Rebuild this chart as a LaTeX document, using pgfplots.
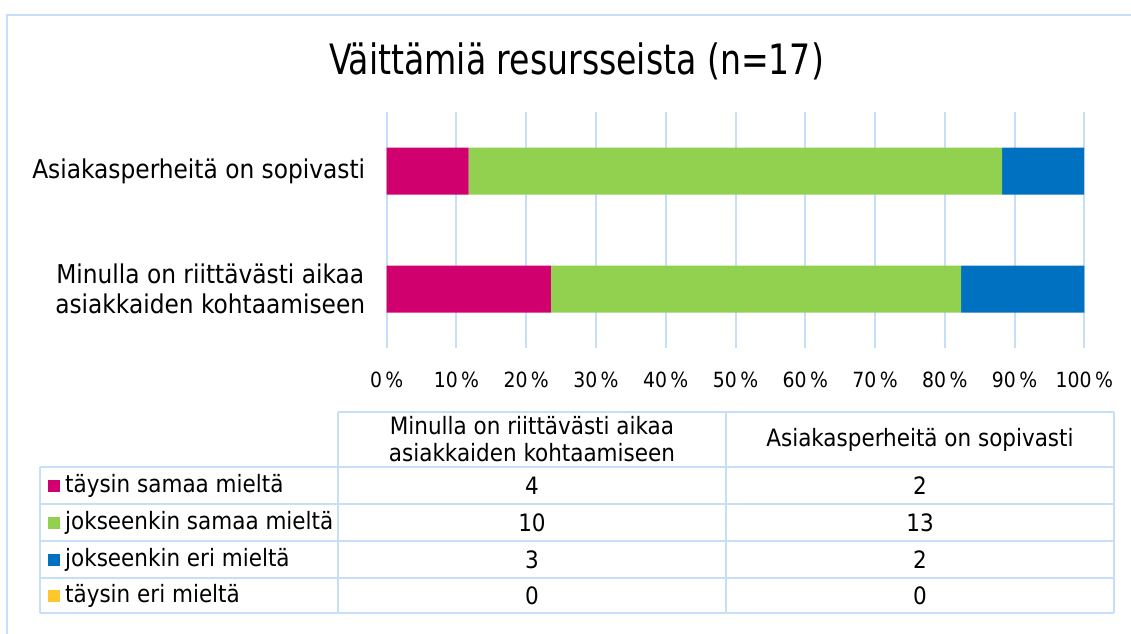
\documentclass[border=0pt]{standalone}
\usepackage{pgfplots}
\pgfplotsset{compat=1.18}
\usepackage{fontspec}
\setmainfont{DejaVu Sans Condensed}
\newfontfamily\titlefont[FakeStretch=0.88]{DejaVu Sans Condensed}

\definecolor{cMag}{HTML}{D0006F}
\definecolor{cGreen}{HTML}{92D050}
\definecolor{cBlue}{HTML}{0070C0}
\definecolor{cYellow}{HTML}{FFC72C}
\definecolor{cGrid}{HTML}{C6DEF7}

\begin{document}
\begin{tikzpicture}
\begin{scope}[x=1bp,y=-1bp]
\useasboundingbox (0,0) rectangle (1131,634);
% outer frame
\draw[cGrid, line width=2bp] (7,660) -- (7,15) -- (1160,15);
% title
\node[anchor=base, inner sep=0pt, font=\titlefont\fontsize{42}{48}\selectfont] at (576.5,75) {Väittämiä resursseista (n=17)};
\end{scope}

\begin{axis}[
  at={(386.7bp,-348bp)}, anchor=south west,
  scale only axis, width=697.6bp, height=236bp,
  xbar stacked, bar width=47bp,
  xmin=0, xmax=100, ymin=0.5, ymax=2.5,
  xtick={0,10,...,100},
  xticklabels={0\,\%,10\,\%,20\,\%,30\,\%,40\,\%,50\,\%,60\,\%,70\,\%,80\,\%,90\,\%,100\,\%},
  xticklabel style={font=\fontsize{21}{24}\selectfont, yshift=-20bp},
  ytick={1,2},
  yticklabels={Minulla on riittävästi aikaa\\asiakkaiden kohtaamiseen, Asiakasperheitä on sopivasti},
  yticklabel style={font=\fontsize{26}{30}\selectfont, align=center, xshift=-18bp},
  xmajorgrids, grid style={cGrid, line width=2bp},
  axis line style={draw=none}, tick style={draw=none},
  major tick length=0pt,
  clip=false,
]
% percentages of n=17
\addplot[fill=cMag, draw=none] coordinates {(23.53,1) (11.76,2)};
\addplot[fill=cGreen, draw=none] coordinates {(58.82,1) (76.47,2)};
\addplot[fill=cBlue, draw=none] coordinates {(17.65,1) (11.76,2)};
\addplot[fill=cYellow, draw=none] coordinates {(0,1) (0,2)};
\end{axis}

\begin{scope}[x=1bp,y=-1bp, font=\fontsize{24}{27}\selectfont]
% table grid
\draw[cGrid, line width=2bp] (338,412) -- (1114,412);
\foreach \yy in {467,504,541,578,613} \draw[cGrid, line width=2bp] (40,\yy) -- (1114,\yy);
\draw[cGrid, line width=2bp] (40,467) -- (40,613);
\foreach \xx in {338,726,1114} \draw[cGrid, line width=2bp] (\xx,412) -- (\xx,613);
% header
\node[align=center] at (532,439.5) {Minulla on riittävästi aikaa\\asiakkaiden kohtaamiseen};
\node at (920,439.5) {Asiakasperheitä on sopivasti};
% rows
\foreach \yc/\col/\lab/\a/\b in {485.5/cMag/täysin samaa mieltä/4/2,
  522.5/cGreen/jokseenkin samaa mieltä/10/13,
  559.5/cBlue/jokseenkin eri mieltä/3/2,
  595.5/cYellow/täysin eri mieltä/0/0} {
  \fill[\col] (48,\yc-6) rectangle (60,\yc+6);
  \node[anchor=west, inner sep=0pt] at (65,\yc) {\lab};
  \node at (532,\yc) {\a};
  \node at (920,\yc) {\b};
}
\end{scope}
\end{tikzpicture}
\end{document}
